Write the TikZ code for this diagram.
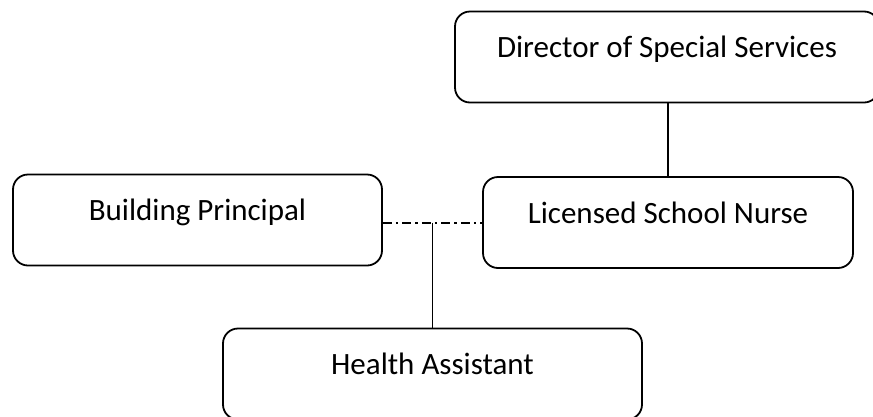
\documentclass[tikz,border=0pt]{standalone}
\usepackage{fontspec}
\setmainfont{Carlito}
\usetikzlibrary{positioning}

\tikzset{
  orgbox/.style={draw, line width=1.8pt, rounded corners=15pt, inner sep=0pt,
    font=\fontsize{31}{36}\selectfont, text height=46pt, text depth=45pt},
  solidlink/.style={draw, line width=1.8pt},
  dotlink/.style={draw, line width=2pt, dash pattern=on 9pt off 4pt on 2.5pt off 4pt}
}

\begin{document}
\begin{tikzpicture}[x=1pt, y=-1pt]
    \useasboundingbox (0,0) rectangle (873,416);

    % Boxes
    \node[orgbox, minimum width=424pt] (dir) at (667, 57) {Director of Special Services};
    \node[orgbox, minimum width=369pt] (bp) at (197.5, 220) {Building Principal};
    \node[orgbox, minimum width=370pt] (lsn) at (668, 222.5) {Licensed School Nurse};
    \node[orgbox, minimum width=419pt] (ha) at (432.5, 374) {Health Assistant};

    % Links
    \draw[solidlink] (lsn.north) -- (lsn.north |- dir.south);
    \draw[dotlink] (bp.east |- lsn.west) -- (lsn.west);
    \coordinate (tee) at (ha.north |- lsn.west);
    \draw[solidlink] (tee) -- (ha.north);
\end{tikzpicture}
\end{document}
